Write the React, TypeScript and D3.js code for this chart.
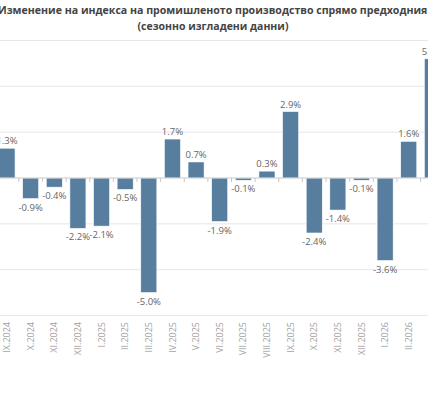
import React from "react";
import * as d3 from "d3";

// monthly change of the industrial production index, %
const months = [
  "IX.2024", "X.2024", "XI.2024", "XII.2024", "I.2025", "II.2025", "III.2025",
  "IV.2025", "V.2025", "VI.2025", "VII.2025", "VIII.2025", "IX.2025", "X.2025",
  "XI.2025", "XII.2025", "I.2026", "II.2026", "III.2026",
];
const changes = [
  1.3, -0.9, -0.4, -2.2, -2.1, -0.5, -5.0, 1.7, 0.7, -1.9, -0.1, 0.3, 2.9, -2.4,
  -1.4, -0.1, -3.6, 1.6, 5.2,
];
const gridValues = [-6, -4, -2, 0, 2, 4, 6];

const titleLine1 =
  "Изменение на индекса на промишленото производство спрямо предходния месец";
const titleLine2 = "(сезонно изгладени данни)";

const width = 428;
const height = 400;
const font = "'Open Sans', 'Noto Sans', sans-serif";

export default function App() {
  const x = d3
    .scaleBand<string>()
    .domain(months)
    .range([-4.8, 444.2])
    .paddingInner(0.32)
    .paddingOuter(0.16);

  const y = d3.scaleLinear().domain([-6, 6]).range([315.5, 40.5]);
  // plain hyphen for negatives
  const fmt = (v: number) => v.toFixed(1) + "%";
  const step = x.step();
  const y0 = y(0);

  return (
    <svg
      width={width}
      height={height}
      style={{ position: "absolute", left: 0, top: 0, background: "#fff" }}
      fontFamily={font}
    >
      <text x={-2} y={14} fontSize={10.6} fontWeight="bold" fill="#444">
        {titleLine1}
      </text>
      <text x={213} y={29.5} fontSize={10.5} fontWeight="bold" fill="#444" textAnchor="middle">
        {titleLine2}
      </text>

      {gridValues
        .filter((v) => v !== 0)
        .map((v) => (
          <line key={v} x1={0} x2={width} y1={y(v)} y2={y(v)} stroke="#e6e6ef" strokeWidth={1} />
        ))}

      {months.map((m, i) => {
        const v = changes[i];
        const bx = x(m) as number;
        return (
          <rect
            key={m}
            x={bx}
            width={x.bandwidth()}
            y={Math.min(y(v), y0)}
            height={Math.abs(y(v) - y0)}
            fill="#577e9e"
            stroke="#fff"
            strokeWidth={0.6}
          />
        );
      })}

      {/* zero baseline with ticks between categories */}
      <line x1={0} x2={width} y1={y0} y2={y0} stroke="#c8c8c8" strokeWidth={1} />
      {months.map((m) => {
        const tx = (x(m) as number) - (step - x.bandwidth()) / 2;
        return <line key={"t" + m} x1={tx} x2={tx} y1={y0} y2={y0 + 4} stroke="#c8c8c8" />;
      })}

      {months.map((m, i) => {
        const v = changes[i];
        const cx = (x(m) as number) + x.bandwidth() / 2;
        return (
          <text
            key={"l" + m}
            x={cx}
            y={v >= 0 ? y(v) - 4 : y(v) + 12}
            fontSize={9.5}
            fill="#666"
            textAnchor="middle"
          >
            {fmt(v)}
          </text>
        );
      })}

      {months.map((m) => {
        const cx = (x(m) as number) + x.bandwidth() / 2;
        return (
          <text
            key={"x" + m}
            transform={`translate(${cx},322) rotate(-90)`}
            fontSize={9}
            fill="#a0a0a0"
            textAnchor="end"
            dy="0.35em"
          >
            {m}
          </text>
        );
      })}
    </svg>
  );
}
